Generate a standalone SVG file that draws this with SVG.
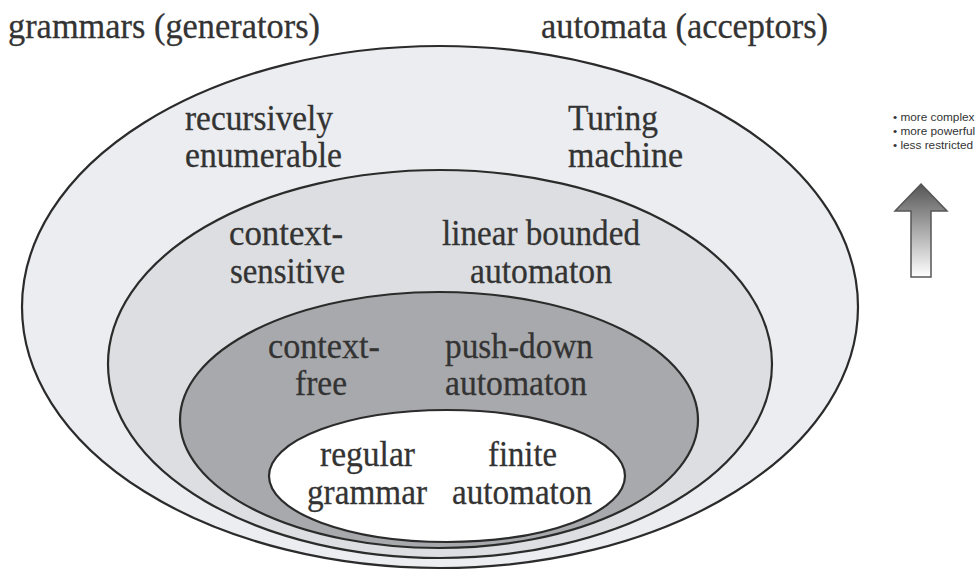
<svg xmlns="http://www.w3.org/2000/svg" width="979" height="572" viewBox="0 0 979 572">
<style>
.lvl{stroke:#2b2b2b;stroke-width:2.2}
.t{font-family:"Liberation Serif","Times New Roman",serif;font-size:36px;fill:#333;stroke:#333;stroke-width:0.3}
.s{font-family:"Liberation Sans",Arial,sans-serif;font-size:11.8px;fill:#333}
</style>
<defs>
<linearGradient id="ag" x1="0" y1="0" x2="0" y2="1">
<stop offset="0" stop-color="#555"/>
<stop offset="1" stop-color="#fff"/>
</linearGradient>
</defs>
<rect width="979" height="572" fill="#fff"/>
<g id="titles">
<text class="t" x="8" y="38" textLength="312" lengthAdjust="spacingAndGlyphs">grammars (generators)</text>
<text class="t" x="541" y="38" textLength="287" lengthAdjust="spacingAndGlyphs">automata (acceptors)</text>
</g>
<g id="recursively-enumerable">
<ellipse class="lvl" cx="440" cy="307" rx="418" ry="261" fill="#ebedf0"/>
<text class="t" x="185" y="130" textLength="148" lengthAdjust="spacingAndGlyphs">recursively</text>
<text class="t" x="185" y="167" textLength="157" lengthAdjust="spacingAndGlyphs">enumerable</text>
<text class="t" x="568" y="130" textLength="90" lengthAdjust="spacingAndGlyphs">Turing</text>
<text class="t" x="568" y="167" textLength="115" lengthAdjust="spacingAndGlyphs">machine</text>
</g>
<g id="context-sensitive">
<ellipse class="lvl" cx="440" cy="364" rx="332" ry="194" fill="#dcdee1"/>
<text class="t" x="229" y="245" textLength="114" lengthAdjust="spacingAndGlyphs">context-</text>
<text class="t" x="230" y="283" textLength="115" lengthAdjust="spacingAndGlyphs">sensitive</text>
<text class="t" x="442" y="245" textLength="198" lengthAdjust="spacingAndGlyphs">linear bounded</text>
<text class="t" x="470" y="283" textLength="142" lengthAdjust="spacingAndGlyphs">automaton</text>
</g>
<g id="context-free">
<ellipse class="lvl" cx="439" cy="420" rx="259" ry="128" fill="#a8a9ac"/>
<text class="t" x="268" y="358" textLength="112" lengthAdjust="spacingAndGlyphs">context-</text>
<text class="t" x="295" y="395" textLength="52" lengthAdjust="spacingAndGlyphs">free</text>
<text class="t" x="445" y="358" textLength="148" lengthAdjust="spacingAndGlyphs">push-down</text>
<text class="t" x="445" y="395" textLength="142" lengthAdjust="spacingAndGlyphs">automaton</text>
</g>
<g id="regular">
<ellipse class="lvl" cx="447" cy="476" rx="178" ry="66" fill="#fff"/>
<text class="t" x="320" y="466" textLength="95" lengthAdjust="spacingAndGlyphs">regular</text>
<text class="t" x="307" y="504" textLength="120" lengthAdjust="spacingAndGlyphs">grammar</text>
<text class="t" x="488" y="466" textLength="69" lengthAdjust="spacingAndGlyphs">finite</text>
<text class="t" x="452" y="504" textLength="140" lengthAdjust="spacingAndGlyphs">automaton</text>
</g>
<g id="legend">
<text class="s" x="893" y="121">• more complex</text>
<text class="s" x="893" y="135">• more powerful</text>
<text class="s" x="893" y="149">• less restricted</text>
</g>
<g id="connectors">
<polygon points="921,184 947,211 931,211 931,277 911,277 911,211 895,211" fill="url(#ag)" stroke="#555" stroke-width="1.5" stroke-linejoin="miter"/>
</g>
</svg>
